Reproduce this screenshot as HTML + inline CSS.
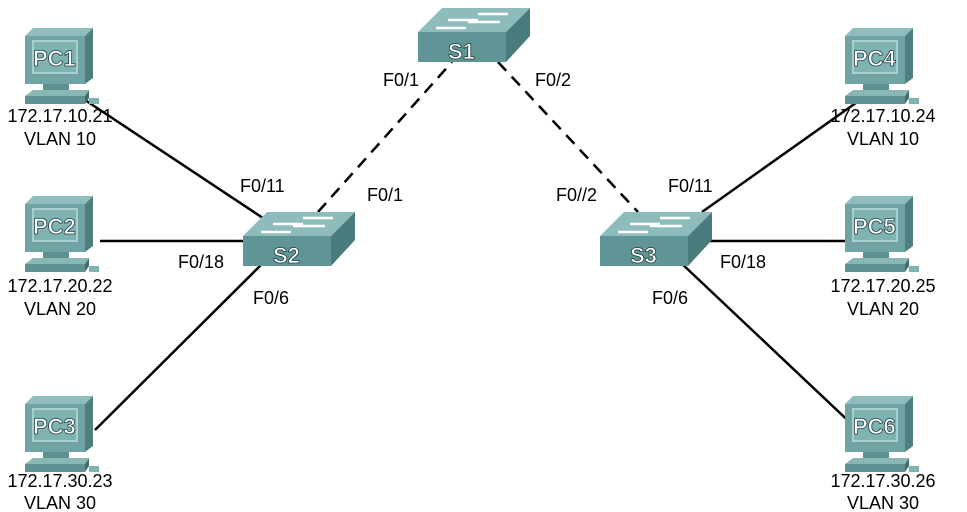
<!DOCTYPE html>
<html><head><meta charset="utf-8"><style>
html,body{margin:0;padding:0;background:#fff;width:967px;height:512px;overflow:hidden}
svg text{font-family:"Liberation Sans",Arial,sans-serif;font-size:18px;fill:#000}
svg text.lbl{font-weight:bold;fill:#fff;stroke:#1e3c3c;stroke-width:0.8;font-size:22px}
</style></head><body>
<svg width="967" height="512" viewBox="0 0 967 512" xmlns="http://www.w3.org/2000/svg">
<defs>
<g id="pc">
  <polygon points="0,10 8,2 68,2 60,10" fill="#8fbcbc"/>
  <polygon points="60,10 68,2 68,52 60,58" fill="#4e7f80"/>
  <rect x="0" y="10" width="60" height="48" fill="#6fa3a4"/>
  <rect x="7" y="14" width="46" height="34" fill="#a9cfcf"/>
  <rect x="9" y="16" width="42" height="30" fill="#7fb2b2"/>
  <rect x="18" y="58" width="26" height="6" fill="#5f9192"/>
  <polygon points="0,70 8,64 64,64 60,70" fill="#8ab6b6"/>
  <rect x="0" y="70" width="60" height="8" fill="#5f9192"/>
  <polygon points="60,70 64,64 64,72 60,78" fill="#3f6e6f"/>
  <rect x="64" y="72" width="10" height="6" fill="#7fb2b2"/>
</g>
<g id="sw">
  <polygon points="0,24 24,0 112,0 88,24" fill="#8ebcbc"/>
  <polygon points="88,24 112,0 112,28 88,54" fill="#4a7b7c"/>
  <rect x="0" y="24" width="88" height="30" fill="#5f9596"/>
  <g stroke="#fff" stroke-width="2.5">
    <line x1="60" y1="6" x2="90" y2="6"/><line x1="30" y1="12" x2="60" y2="12"/>
    <line x1="50" y1="14" x2="82" y2="14"/><line x1="18" y1="20" x2="48" y2="20"/>
  </g>
</g>
</defs>
<g stroke="#000" stroke-width="2.5" fill="none">
  <line x1="85" y1="100" x2="275" y2="226"/>
  <line x1="100" y1="241" x2="243" y2="241"/>
  <line x1="95" y1="430" x2="268" y2="258"/>
  <line x1="702" y1="212" x2="860" y2="100"/>
  <line x1="705" y1="241" x2="850" y2="241"/>
  <line x1="680" y1="262" x2="858" y2="430"/>
  <line x1="318" y1="212" x2="452" y2="62" stroke-dasharray="12,8"/>
  <line x1="498" y1="62" x2="638" y2="212" stroke-dasharray="12,8"/>
</g>
<use href="#sw" x="418" y="8"/><text class="lbl" x="448" y="59">S1</text>
<use href="#sw" x="243" y="212"/><text class="lbl" x="273" y="263">S2</text>
<use href="#sw" x="600" y="212"/><text class="lbl" x="630" y="263">S3</text>
<use href="#pc" x="25" y="26"/><text class="lbl" x="33" y="66">PC1</text>
<use href="#pc" x="25" y="194"/><text class="lbl" x="33" y="234">PC2</text>
<use href="#pc" x="25" y="394"/><text class="lbl" x="33" y="434">PC3</text>
<use href="#pc" x="845" y="26"/><text class="lbl" x="853" y="66">PC4</text>
<use href="#pc" x="845" y="194"/><text class="lbl" x="853" y="234">PC5</text>
<use href="#pc" x="845" y="394"/><text class="lbl" x="853" y="434">PC6</text>
<g text-anchor="middle">
<text x="60" y="122">172.17.10.21</text><text x="60" y="145">VLAN 10</text>
<text x="60" y="292">172.17.20.22</text><text x="60" y="315">VLAN 20</text>
<text x="60" y="487">172.17.30.23</text><text x="60" y="509">VLAN 30</text>
<text x="883" y="122">172.17.10.24</text><text x="883" y="145">VLAN 10</text>
<text x="883" y="292">172.17.20.25</text><text x="883" y="315">VLAN 20</text>
<text x="883" y="487">172.17.30.26</text><text x="883" y="509">VLAN 30</text>
</g>
<text x="240" y="192">F0/11</text>
<text x="178" y="268">F0/18</text>
<text x="253" y="304">F0/6</text>
<text x="383" y="86">F0/1</text>
<text x="367" y="201">F0/1</text>
<text x="535" y="86">F0/2</text>
<text x="556" y="201">F0//2</text>
<text x="668" y="192">F0/11</text>
<text x="720" y="268">F0/18</text>
<text x="652" y="304">F0/6</text>
</svg>
</body></html>
